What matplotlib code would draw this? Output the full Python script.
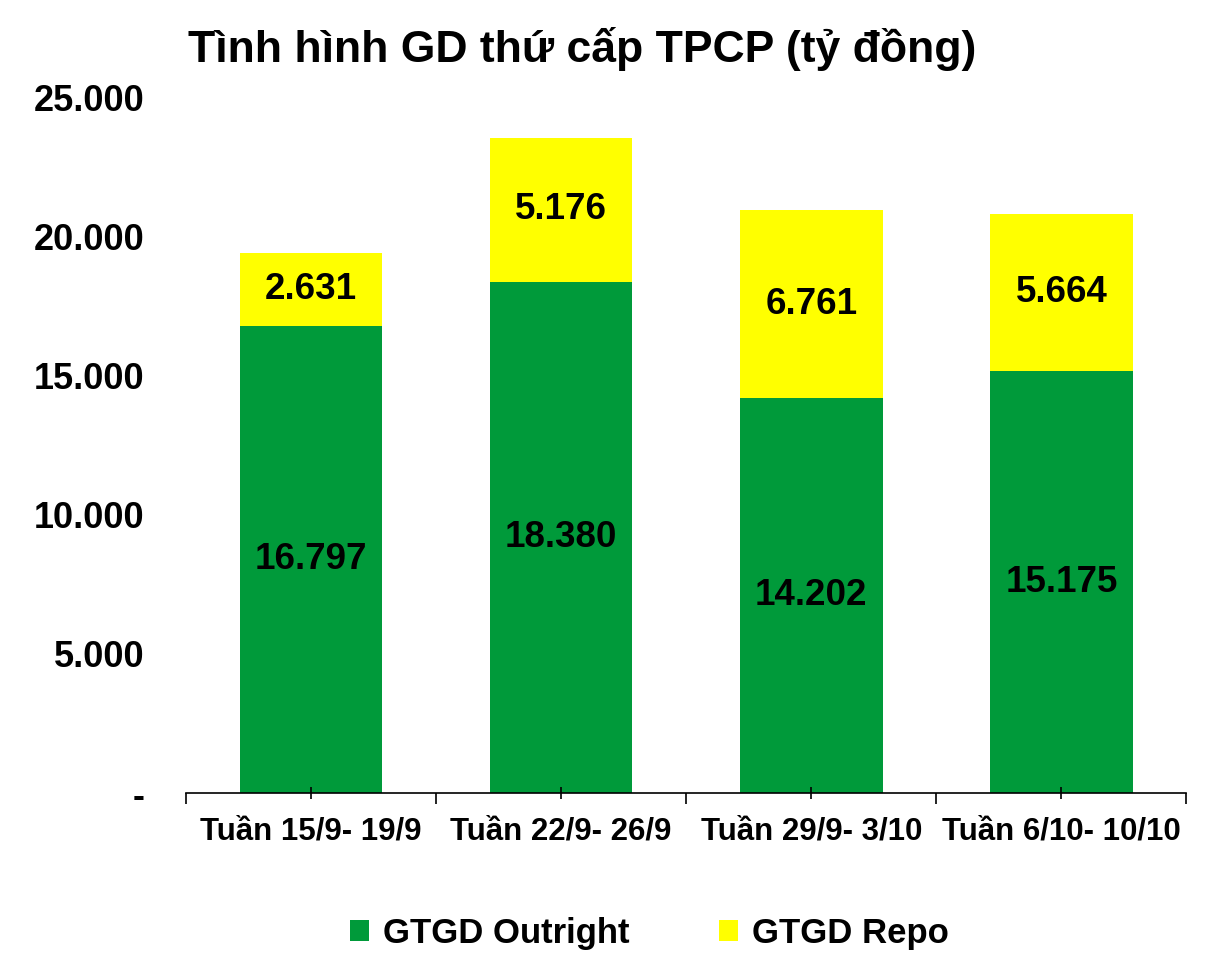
import matplotlib.pyplot as plt

plt.rcParams['font.family'] = ['Liberation Sans', 'DejaVu Sans']
plt.rcParams['font.weight'] = 'bold'

tuan = ["Tuần 15/9- 19/9", "Tuần 22/9- 26/9", "Tuần 29/9- 3/10", "Tuần 6/10- 10/10"]
outright = [16797, 18380, 14202, 15175]
repo = [2631, 5176, 6761, 5664]
yticks = [0, 5000, 10000, 15000, 20000, 25000]


def fmt(v):
    if v == 0:
        return "-"
    return f"{v:,}".replace(",", ".")


fig = plt.figure(figsize=(12.07, 9.69), dpi=100)
ax = fig.add_axes([0.154, 0.1816, 0.829, 0.7174])

x = list(range(len(tuan)))
ax.bar(x, outright, width=0.57, color="#009a3a", label="GTGD Outright")
ax.bar(x, repo, width=0.57, bottom=outright, color="#ffff00", label="GTGD Repo")

for i in x:
    ax.text(i, outright[i] / 2, fmt(outright[i]), ha="center", va="center",
            fontsize=26.5, fontweight="bold")
    ax.text(i, outright[i] + repo[i] / 2, fmt(repo[i]), ha="center", va="center",
            fontsize=26.5, fontweight="bold")

ax.set_xlim(-0.5, len(tuan) - 0.5)
ax.set_ylim(0, 25000)
ax.set_yticks(yticks)
ax.set_yticklabels([fmt(v) for v in yticks], fontsize=26, fontweight="bold")
ax.tick_params(axis="y", length=0, pad=30)

ax.set_xticks(x)
ax.set_xticklabels(tuan, fontsize=22.5, fontweight="bold")
ax.set_xticks([i - 0.5 for i in range(len(tuan) + 1)], minor=True)
ax.tick_params(axis="x", which="major", length=8, direction="inout", width=1.2, pad=13)
ax.tick_params(axis="x", which="minor", length=8, direction="out", width=1.2)

for s in ["top", "right", "left"]:
    ax.spines[s].set_visible(False)
ax.spines["bottom"].set_linewidth(1.2)

ax.set_title("Tình hình GD thứ cấp TPCP (tỷ đồng)", fontsize=32, fontweight="bold",
             x=0.396, y=1.04)

fig.legend(loc="center", bbox_to_anchor=(0.538, 0.037), ncol=2, frameon=False,
           fontsize=25, handlelength=0.55, handleheight=0.55, handletextpad=0.4,
           columnspacing=2.6)

fig.savefig("out.png", dpi=100)
